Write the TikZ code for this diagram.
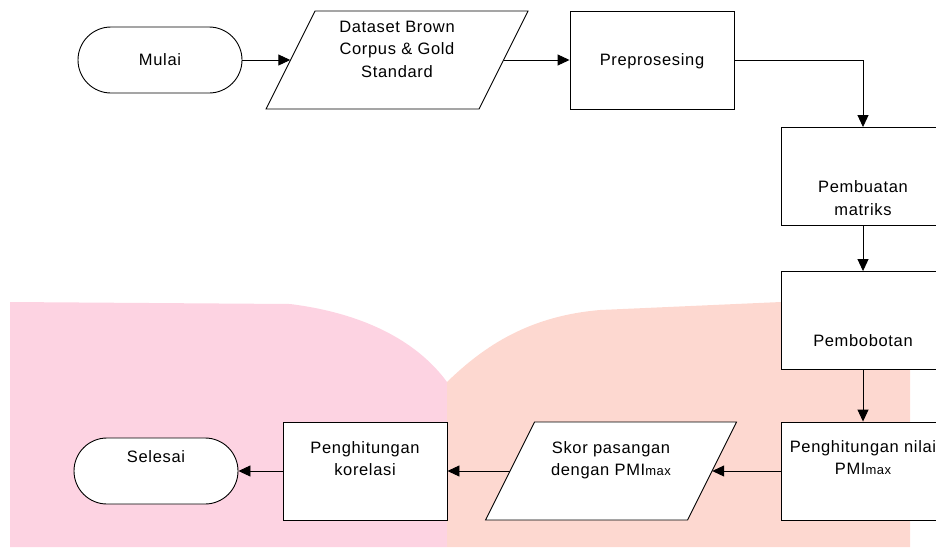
\documentclass[tikz,border=0pt]{standalone}
\usepackage{fontspec}
\setmainfont{Liberation Sans}
\newfontfamily\flowfont{Liberation Sans}[LetterSpace=4.0]
\usetikzlibrary{arrows.meta}

\definecolor{pinkbg}{RGB}{253,211,226}
\definecolor{salmonbg}{RGB}{253,216,208}

% slanted outline round an io node: centre, width
\newcommand{\ioshape}[2]{%
	\draw[ioline, shift={#1}] (-#2/2+24.5,-49) -- (#2/2+24.5,-49) -- (#2/2-24.5,49) -- (-#2/2-24.5,49) -- cycle;}
\newcommand{\maxsub}{{\fontsize{13}{13}\selectfont max}}

\tikzset{
	txt/.style={align=center, inner sep=0pt, font=\flowfont\fontsize{16.5}{22.5}\selectfont},
	box/.style={draw, fill=white, line width=0.9pt, minimum width=164pt, minimum height=98pt, inner sep=0pt},
	terminal/.style={box, minimum height=66pt, rounded corners=33pt},
	io/.style={minimum height=98pt, inner sep=0pt},
	ioline/.style={draw, fill=white, line width=0.9pt},
	flow/.style={-{Triangle[length=12pt,width=11pt]}, line width=0.9pt},
	every label/.style={txt}
}

\begin{document}
\begin{tikzpicture}[x=1pt, y=-1pt]
		\useasboundingbox (0,0) rectangle (936,555);
		\clip (0,0) rectangle (936,555);
		
		% background
		\fill[pinkbg] (10,302) -- (290,304) .. controls (370,314) and (420,345) .. (447,382) -- (447,547) -- (10,547) -- cycle;
		\fill[salmonbg] (447,382) .. controls (485,345) and (530,316) .. (600,310) -- (781,302) -- (910,302) -- (910,547) -- (447,547) -- cycle;
		
		\node[terminal, label={center:Mulai}] (Mulai) at (160,60) {};
		
		\ioshape{(397,60)}{213}
		\node[io, minimum width=213pt, label={[yshift=11pt]center:{Dataset Brown\\Corpus \& Gold\\Standard}}] (Dataset) at (397,60) {};
		
		\node[box, label={[yshift=-1.5pt]center:Preprosesing}] (Preprosesing) at (652,60) {};
		\node[box, label={[yshift=-21.5pt]center:{Pembuatan\\matriks}}] (PembuatanMatriks) at (863,176.5) {};
		\node[box, label={[yshift=-20.5pt]center:Pembobotan}] (Pembobotan) at (863,320.5) {};
		\node[box, label={[yshift=13.5pt]center:{Penghitungan nilai\\PMI\maxsub}}] (PenghitunganNilai) at (863,471) {};
		
		\ioshape{(611,471)}{202}
		\node[io, minimum width=202pt, label={[yshift=11pt]center:{Skor pasangan\\dengan PMI\maxsub}}] (SkorPasangan) at (611,471) {};
		
		\node[box, label={[yshift=12.5pt]center:{Penghitungan\\korelasi}}] (PenghitunganKorelasi) at (365,471) {};
		\node[terminal, label={[yshift=14pt]center:Selesai}] (Selesai) at (156,471) {};
		
		\draw[flow] (Mulai) -- (Dataset);
		\draw[flow] (Dataset) -- (Preprosesing);
		\draw[flow] (Preprosesing) -| (PembuatanMatriks);
		\draw[flow] (PembuatanMatriks) -- (Pembobotan);
		\draw[flow] (Pembobotan) -- (PenghitunganNilai);
		\draw[flow] (PenghitunganNilai) -- (SkorPasangan);
		\draw[flow] (SkorPasangan) -- (PenghitunganKorelasi);
		\draw[flow] (PenghitunganKorelasi) -- (Selesai);
\end{tikzpicture}
\end{document}
